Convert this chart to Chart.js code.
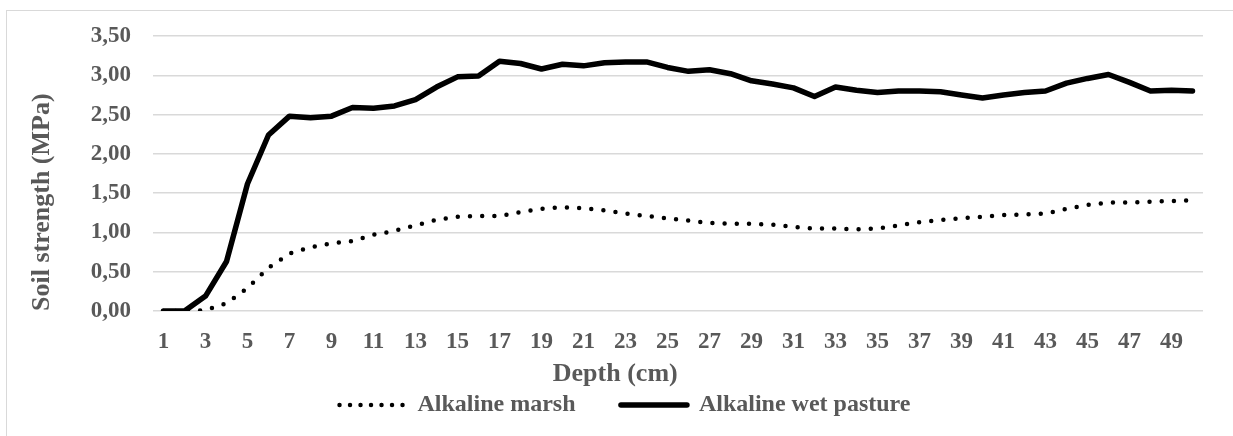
<!DOCTYPE html>
<html>
<head>
<meta charset="utf-8">
<script src="https://cdn.jsdelivr.net/npm/chart.js@4"></script>
<style>
  html, body { margin: 0; padding: 0; background: #fff; overflow: hidden; }
  #frame { position: absolute; left: 6px; top: 10px; width: 1236px; height: 434px; border: 1px solid #d9d9d9; }
  #frame canvas { display: block; }
</style>
</head>
<body>
<div id="frame"><canvas id="soilChart"></canvas></div>
<script>
var depths = [1, 2, 3, 4, 5, 6, 7, 8, 9, 10, 11, 12, 13, 14, 15, 16, 17, 18, 19, 20,
  21, 22, 23, 24, 25, 26, 27, 28, 29, 30, 31, 32, 33, 34, 35, 36, 37, 38, 39, 40,
  41, 42, 43, 44, 45, 46, 47, 48, 49, 50];

var marsh = [0, 0, 0.01, 0.10, 0.29, 0.55, 0.73, 0.81, 0.86, 0.89,
  0.97, 1.02, 1.09, 1.16, 1.20, 1.21, 1.21, 1.26, 1.30, 1.32,
  1.31, 1.28, 1.24, 1.21, 1.18, 1.15, 1.12, 1.11, 1.11, 1.10,
  1.07, 1.05, 1.05, 1.04, 1.05, 1.09, 1.13, 1.16, 1.18, 1.20,
  1.22, 1.23, 1.24, 1.30, 1.35, 1.38, 1.38, 1.39, 1.40, 1.41];

var wetPasture = [0, 0, 0.19, 0.63, 1.62, 2.24, 2.48, 2.46, 2.48, 2.59,
  2.58, 2.61, 2.69, 2.85, 2.98, 2.99, 3.18, 3.15, 3.08, 3.14,
  3.12, 3.16, 3.17, 3.17, 3.10, 3.05, 3.07, 3.02, 2.93, 2.89,
  2.84, 2.73, 2.85, 2.81, 2.78, 2.80, 2.80, 2.79, 2.75, 2.71,
  2.75, 2.78, 2.80, 2.90, 2.96, 3.01, 2.91, 2.80, 2.81, 2.80];

var textGrey = "#595959";
var serif = "'Times New Roman', 'Liberation Serif', serif";
Chart.defaults.font.family = serif;
Chart.defaults.font.weight = "bold";
Chart.defaults.color = textGrey;

var ctx = document.getElementById("soilChart").getContext("2d");
var soilChart = new Chart(ctx, {
  type: "line",
  data: {
    labels: depths,
    datasets: [
      {
        label: "Alkaline marsh",
        data: marsh,
        borderColor: "#000",
        backgroundColor: "#000",
        borderWidth: 4.5,
        borderDash: [0, 12.2],
        borderCapStyle: "round",
        pointRadius: 0,
        tension: 0,
      },
      {
        label: "Alkaline wet pasture",
        data: wetPasture,
        borderColor: "#000",
        backgroundColor: "#000",
        borderWidth: 5.5,
        borderCapStyle: "round",
        borderJoinStyle: "round",
        pointRadius: 0,
        tension: 0,
      },
    ],
  },
  options: {
    responsive: true,
    maintainAspectRatio: false,
    animation: false,
    layout: { padding: { top: 25, right: 0, bottom: 18, left: 0 } },
    plugins: {
      tooltip: { enabled: false },
      // x axis title, drawn as a chart title so it sits between ticks and legend
      title: {
        display: true,
        position: "bottom",
        weight: 500,
        text: "Depth (cm)   ",
        color: textGrey,
        font: { size: 26, weight: "bold" },
        padding: { top: 4.7, bottom: 0 },
      },
      legend: {
        position: "bottom",
        weight: 1000,
        labels: {
          usePointStyle: true,
          pointStyleWidth: 66,
          boxHeight: 24,
          padding: 3.4,
          font: { size: 24, weight: "bold" },
          generateLabels: function (chart) {
            return chart.data.datasets.map(function (ds, i) {
              return {
                // trailing spaces widen the gap before the second entry
                text: ds.label + (i === 0 ? "       " : ""),
                fillStyle: ds.borderColor,
                strokeStyle: ds.borderColor,
                lineWidth: ds.borderWidth,
                lineDash: ds.borderDash ? [0, 10.5] : [],
                lineCap: ds.borderCapStyle,
                pointStyle: "line",
                fontColor: textGrey,
                datasetIndex: i,
              };
            });
          },
        },
      },
    },
    scales: {
      x: {
        offset: true,
        afterFit: function (scale) {
          scale.height = 42.7;
        },
        grid: { display: false, drawTicks: false },
        border: { display: false },
        ticks: {
          autoSkip: false,
          maxRotation: 0,
          padding: 16.8,
          font: { size: 23, weight: "bold" },
          callback: function (value, index) {
            return index % 2 === 0 ? depths[index] : "";
          },
        },
      },
      y: {
        min: 0,
        max: 3.5,
        afterFit: function (scale) {
          scale.width = 146;
        },
        // invisible tick marks give the gap between labels and plot
        grid: { color: "#d9d9d9", lineWidth: 1.5, drawTicks: true, tickLength: 22, tickColor: "rgba(0,0,0,0)" },
        border: { display: false },
        ticks: {
          stepSize: 0.5,
          padding: 0,
          font: { size: 23, weight: "bold" },
          callback: function (v) {
            return v.toFixed(2).replace(".", ",");
          },
        },
        title: {
          display: true,
          text: "Soil strength (MPa)",
          align: "start",
          color: textGrey,
          font: { size: 26, weight: "bold" },
          padding: { top: 19.4, bottom: 0 },
        },
      },
      // empty right-hand strip, keeps the plot clear of the frame edge
      yRight: {
        position: "right",
        grid: { display: false, drawTicks: false },
        border: { display: false },
        ticks: { display: false },
        afterFit: function (scale) {
          scale.width = 40;
        },
      },
    },
  },
});
</script>
</body>
</html>
